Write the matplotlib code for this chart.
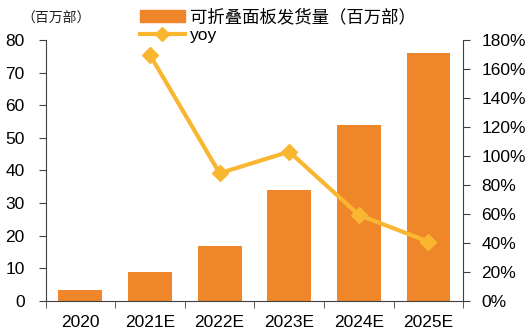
import matplotlib
matplotlib.use("Agg")
import matplotlib.pyplot as plt
from matplotlib.patches import Patch
from matplotlib.lines import Line2D
import numpy as np

plt.rcParams['font.family'] = ['Liberation Sans', 'Noto Sans CJK SC', 'DejaVu Sans']

years = ["2020", "2021E", "2022E", "2023E", "2024E", "2025E"]
shipments = [3.3, 8.9, 16.8, 34.0, 53.9, 75.9]          # 百万部
yoy_years = ["2021E", "2022E", "2023E", "2024E", "2025E"]
yoy = [169.7, 88.0, 102.9, 59.2, 40.7]                  # %

bar_color = "#F0862A"
line_color = "#F9B731"
spine_color = "#404040"

fig = plt.figure(figsize=(5.31, 3.36), dpi=100)
ax = fig.add_axes([0.0857, 0.105, 0.7868, 0.776])

x = np.arange(len(years))
ax.bar(x, shipments, width=0.63, color=bar_color, zorder=2)
ax.set_xlim(-0.5, len(years) - 0.5)
ax.set_ylim(0, 80)
ax.set_yticks(np.arange(0, 81, 10))
ax.set_xticks(x)
ax.set_xticklabels(years)
ax.set_xticks(np.arange(-0.5, len(years), 1), minor=True)
ax.tick_params(axis='x', which='major', length=0, pad=10, labelsize=12.5)
ax.tick_params(axis='x', which='minor', length=5, direction='out', color=spine_color)
ax.tick_params(axis='y', length=5, direction='out', color=spine_color, labelsize=12.5, pad=10)
for s in ['top', 'right']:
    ax.spines[s].set_visible(False)
for s in ['left', 'bottom']:
    ax.spines[s].set_color(spine_color)

ax2 = ax.twinx()
xi = [years.index(y) for y in yoy_years]
ax2.plot(xi, yoy, color=line_color, lw=3, marker='D', markersize=8, zorder=3)
ax2.set_ylim(0, 180)
ax2.set_yticks(np.arange(0, 181, 20))
ax2.set_yticklabels([f"{v}%" for v in range(0, 181, 20)])
ax2.tick_params(axis='y', length=5, direction='out', color=spine_color, labelsize=12.5, pad=8)
for s in ['top', 'left', 'bottom']:
    ax2.spines[s].set_visible(False)
ax2.spines['right'].set_color(spine_color)

handles = [Patch(color=bar_color),
           Line2D([0], [0], color=line_color, lw=3, marker='D', markersize=7)]
labels = ["可折叠面板发货量（百万部）", "yoy"]
fig.legend(handles, labels, loc='upper left', bbox_to_anchor=(0.25, 0.995),
           frameon=False, fontsize=12.5, handlelength=2.6, handleheight=0.7,
           handletextpad=0.3, labelspacing=0.15, borderaxespad=0)

fig.text(0.04, 0.945, "（百万部）", fontsize=10, family=['Noto Sans CJK SC'],
         va='center', ha='left', color="#222222")

fig.savefig("out.png", dpi=100)
